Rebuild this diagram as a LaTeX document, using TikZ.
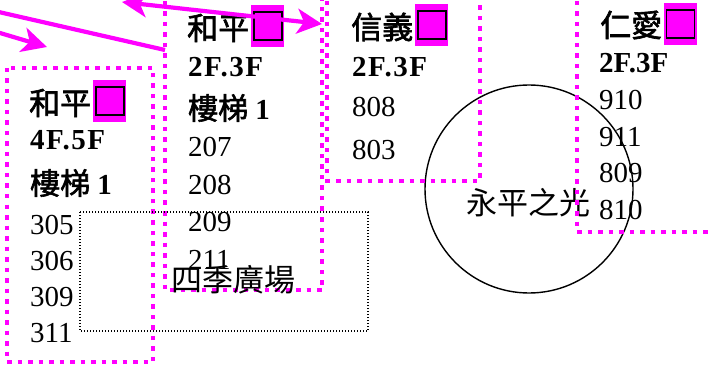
\documentclass[tikz,border=0pt]{standalone}
\usepackage{fontspec}
\setmainfont{Liberation Serif}
\newfontfamily\cjk[AutoFakeBold=2]{Noto Sans CJK TC}
\newfontfamily\wide[LetterSpace=5]{Liberation Serif}
\usetikzlibrary{arrows.meta,positioning}

\definecolor{mag}{RGB}{255,0,255}

\tikzset{
  zone/.style={draw=mag, line width=4.5pt, dash pattern=on 4.5pt off 6pt},
  walk/.style={draw=mag, line width=4.2pt},
  walktip/.tip={Stealth[length=25pt, width=25pt, inset=7pt]},
  roomtxt/.style={anchor=west, inner sep=0pt, font=\fontsize{29}{34}\selectfont},
  headtxt/.style={roomtxt, font=\fontsize{29}{34}\selectfont\bfseries},
  headcjk/.style={roomtxt, font=\fontsize{31}{36}\selectfont\bfseries\cjk},
  spotname/.style={inner sep=0pt, font=\fontsize{31}{36}\selectfont\cjk},
  hilite/.style={fill=mag, minimum width=33pt, minimum height=42pt, inner sep=0pt,
    path picture={\draw[line width=1.6pt]
      ([shift={(3pt,-7pt)}]path picture bounding box.north west) rectangle
      ([shift={(-2pt,7pt)}]path picture bounding box.south east);}}
}

\begin{document}
\begin{tikzpicture}[x=1pt, y=-1pt]
  \useasboundingbox (0,0) rectangle (709,366);

  % 永平之光
  \node[circle, draw, line width=1.4pt, minimum size=208pt, inner sep=0pt] (light) at (529,189) {};
  \node[spotname] (lightname) at (528,203) {永平之光};

  % 和平 4F.5F
  \draw[zone] (7,68) rectangle (153,362);
  \node[headcjk] (hpa) at (29,103) {和平};
  \node[hilite] (hpabox) at (109.5,101) {};
  \node[headtxt] (hpafl) at (30,140) {\wide 4F.5F};
  \node[headtxt] (hpast) at (30,183) {{\cjk\fontsize{30}{36}\selectfont 樓梯} 1};
  \foreach \r [count=\i from 0] in {305,306,309,311}
    \node[roomtxt] (a\r) at (30,{225+36*\i}) {\r};

  % 和平 2F.3F
  \draw[zone] (165,-20) rectangle (322,290);
  \node[headcjk] (hpb) at (187,28) {和平};
  \node[hilite] (hpbbox) at (267.5,26) {};
  \node[headtxt] (hpbfl) at (188,67) {\wide 2F.3F};
  \node[headtxt] (hpbst) at (188,108) {{\cjk\fontsize{30}{36}\selectfont 樓梯} 1};
  \foreach \r [count=\i from 0] in {207,208,209,211}
    \node[roomtxt] (b\r) at (188,{147+37.7*\i}) {\r};

  % 信義
  \draw[zone] (327,-20) rectangle (480,181);
  \node[headcjk] (xy) at (351,27) {信義};
  \node[hilite] (xybox) at (431.5,25) {};
  \node[headtxt] (xyfl) at (352,67) {\wide 2F.3F};
  \node[roomtxt] (c808) at (352,107) {808};
  \node[roomtxt] (c803) at (352,150) {803};

  % 仁愛
  \draw[zone] (577,-20) rectangle (730,232);
  \node[headcjk] (ra) at (600,25) {仁愛};
  \node[hilite] (rabox) at (680,24) {};
  \node[headtxt] (rafl) at (599,63) {2F.3F};
  \foreach \r [count=\i from 0] in {910,911,809,810}
    \node[roomtxt] (d\r) at (599,{100+36.7*\i}) {\r};

  % 四季廣場
  \draw[line width=1.2pt, dash pattern=on 1.2pt off 1.8pt] (80,212) rectangle (368,331);
  \node[spotname] (square) at (233,280) {四季廣場};

  % walkways
  \coordinate (w1s) at (-10,30);
  \coordinate (w1e) at (47,47);
  \coordinate (w2s) at (-10,10);
  \coordinate (w2e) at (165,50);
  \coordinate (w3s) at (122,2);
  \coordinate (w3e) at (322,24);
  \draw[walk, -walktip] (w1s) -- (w1e);
  \draw[walk] (w2s) -- (w2e);
  \draw[walk, walktip-walktip] (w3s) -- (w3e);
\end{tikzpicture}
\end{document}
